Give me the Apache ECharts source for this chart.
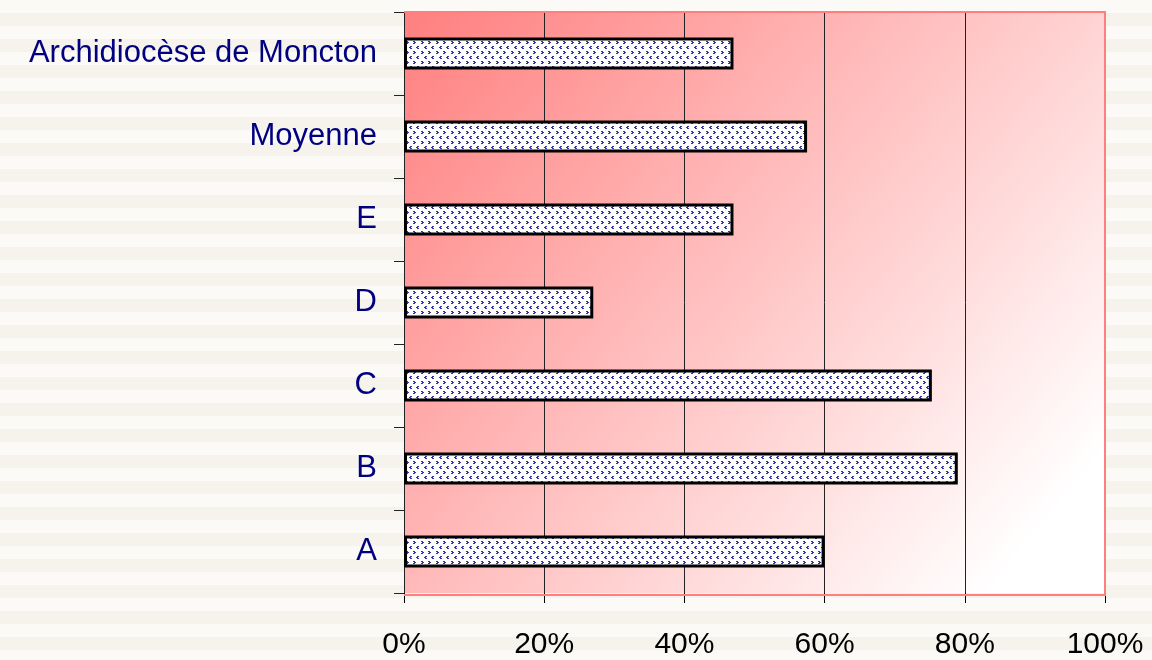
<!DOCTYPE html>
<html>
<head>
<meta charset="utf-8">
<script src="https://cdn.jsdelivr.net/npm/echarts@6/dist/echarts.min.js"></script>
<style>
  html, body { margin: 0; padding: 0; }
  body {
    width: 1152px; height: 660px;
    background: repeating-linear-gradient(180deg, #fbfaf6 0px, #fbfaf6 13px, #f5f3eb 13px, #f5f3eb 26px);
  }
  #main { width: 1152px; height: 660px; }
</style>
</head>
<body>
<div id="main"></div>
<script>
// categories from bottom to top
var categories = ['A', 'B', 'C', 'D', 'E', 'Moyenne', 'Archidiocèse de Moncton'];
var values = [60, 79, 75.3, 27, 47, 57.5, 47];
var tickValues = [0, 20, 40, 60, 80, 100];

// motif des barres (petits chevrons bleus sur blanc)
function makePattern() {
  var c = document.createElement('canvas');
  c.width = 15; c.height = 10;
  var ctx = c.getContext('2d');
  ctx.fillStyle = '#ffffff';
  ctx.fillRect(0, 0, 15, 10);
  ctx.fillStyle = '#3535a8';
  // '>'
  ctx.fillRect(1, 1, 2, 1); ctx.fillRect(2, 2, 2, 1); ctx.fillRect(1, 3, 2, 1);
  ctx.fillRect(8, 1, 2, 1); ctx.fillRect(9, 2, 2, 1); ctx.fillRect(8, 3, 2, 1);
  // '<'
  ctx.fillRect(5, 6, 2, 1); ctx.fillRect(4, 7, 2, 1); ctx.fillRect(5, 8, 2, 1);
  ctx.fillRect(12, 6, 2, 1); ctx.fillRect(11, 7, 2, 1); ctx.fillRect(12, 8, 2, 1);
  return c;
}

var myChart = echarts.init(document.getElementById('main'), null, {renderer: 'canvas'});

var option = {
  backgroundColor: 'transparent',
  animation: false,
  grid: {
    left: 404, top: 12, width: 701, height: 583,
    show: true,
    borderWidth: 0,
    backgroundColor: new echarts.graphic.LinearGradient(0, 0, 1, 1, [
      {offset: 0, color: '#ff7f7f'},
      {offset: 0.9, color: '#ffffff'},
      {offset: 1, color: '#ffffff'}
    ])
  },
  xAxis: {
    type: 'value',
    min: 0, max: 100, interval: 20,
    axisLine: {show: false},
    axisTick: {show: true, length: 10, lineStyle: {color: '#000', width: 1}},
    axisLabel: {
      margin: 37,
      fontFamily: 'Liberation Sans, Arial, sans-serif',
      fontSize: 30,
      color: '#000',
      formatter: function (v) { return tickValues.indexOf(v) >= 0 ? v + '%' : ''; }
    },
    splitLine: {show: true, lineStyle: {color: '#222', width: 1}}
  },
  yAxis: {
    type: 'category',
    data: categories,
    axisLine: {show: true, lineStyle: {color: '#222', width: 1}},
    axisTick: {show: true, length: 10, inside: false, lineStyle: {color: '#222', width: 1}},
    axisLabel: {
      margin: 27,
      fontFamily: 'Liberation Sans, Arial, sans-serif',
      fontSize: 31,
      color: '#000080'
    },
    splitLine: {show: false}
  },
  graphic: [{
    type: 'polyline',
    z: 100,
    shape: {points: [[404, 12], [1105, 12], [1105, 595], [404, 595]]},
    style: {stroke: '#ff7f7f', lineWidth: 2, fill: null}
  }],
  series: [{
    type: 'bar',
    data: values,
    barWidth: 32,
    itemStyle: {
      color: {image: makePattern(), repeat: 'repeat'},
      borderColor: '#000',
      borderWidth: 3
    }
  }]
};

myChart.setOption(option);
</script>
</body>
</html>
